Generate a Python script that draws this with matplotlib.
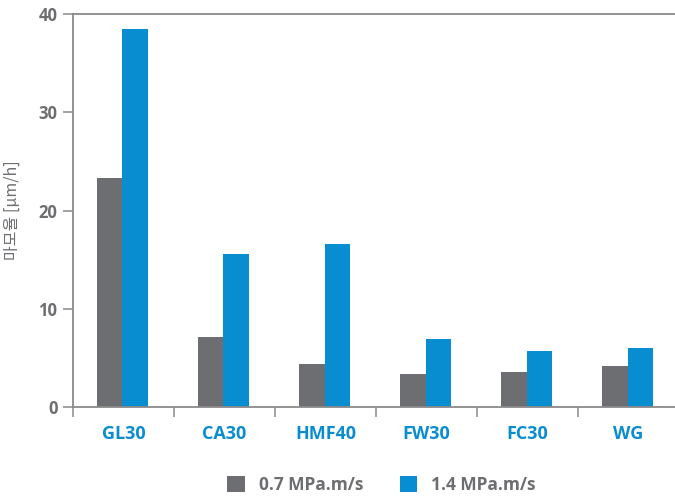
#!/usr/bin/env python3

# Wear rate bar chart: two sliding speeds per material.
import numpy as np
import matplotlib.pyplot as plt

# Data.
materials = ['GL30', 'CA30', 'HMF40', 'FW30', 'FC30', 'WG']
low_speed = [23.3, 7.1, 4.4, 3.4, 3.6, 4.2]
high_speed = [38.5, 15.6, 16.6, 6.9, 5.7, 6.0]
series_names = ['0.7 MPa.m/s', '1.4 MPa.m/s']
y_ticks = [0, 10, 20, 30, 40]

# Colours.
grey = '#6d6e71'
blue = '#088dd1'
axis_grey = '#8a8a8a'

plt.rcParams['font.family'] = ['Open Sans', 'Noto Sans CJK KR', 'DejaVu Sans']

fig = plt.figure(figsize=(6.75, 4.97), dpi=100)
ax = fig.add_axes([0.1081, 0.1811, 0.898, 0.7907])

x = np.arange(len(materials))
width = 0.25
ax.bar(x - 0.135, low_speed, width, color=grey, label=series_names[0])
ax.bar(x + 0.115, high_speed, width, color=blue, label=series_names[1])

ax.set_xlim(-0.5, len(materials) - 0.5)
ax.set_ylim(0, 40)

# Spines.
for side in ['left', 'bottom', 'top']:
    ax.spines[side].set_color(axis_grey)
    ax.spines[side].set_linewidth(1.3)
ax.spines['right'].set_visible(False)

# Y ticks.
ax.set_yticks(y_ticks)
ax.tick_params(axis='y', direction='out', length=7.2, width=1.1, color=axis_grey,
               pad=4, labelsize=12, labelcolor=grey)
for lbl in ax.get_yticklabels():
    lbl.set_fontweight('bold')

# X ticks: labels at centres, tick marks at boundaries.
ax.set_xticks(x)
ax.set_xticklabels(materials, fontweight='bold', color=blue, fontsize=13)
ax.tick_params(axis='x', which='major', length=0, pad=13)
ax.set_xticks(np.arange(len(materials) + 1) - 0.5, minor=True)
ax.tick_params(axis='x', which='minor', direction='out', length=7.2, width=1.1,
               color=axis_grey)

ax.set_ylabel('마모율 [μm/h]', fontsize=11.5, color=grey,
              family=['Noto Sans CJK KR', 'DejaVu Sans'], labelpad=13)

fig.legend(loc='lower center', bbox_to_anchor=(0.565, -0.025), ncol=2, frameon=False,
           prop={'size': 12.5, 'weight': 'bold'}, labelcolor=grey,
           handlelength=1.0, handleheight=1.0, columnspacing=2.1, handletextpad=0.8)

fig.savefig('out.png', dpi=100)
